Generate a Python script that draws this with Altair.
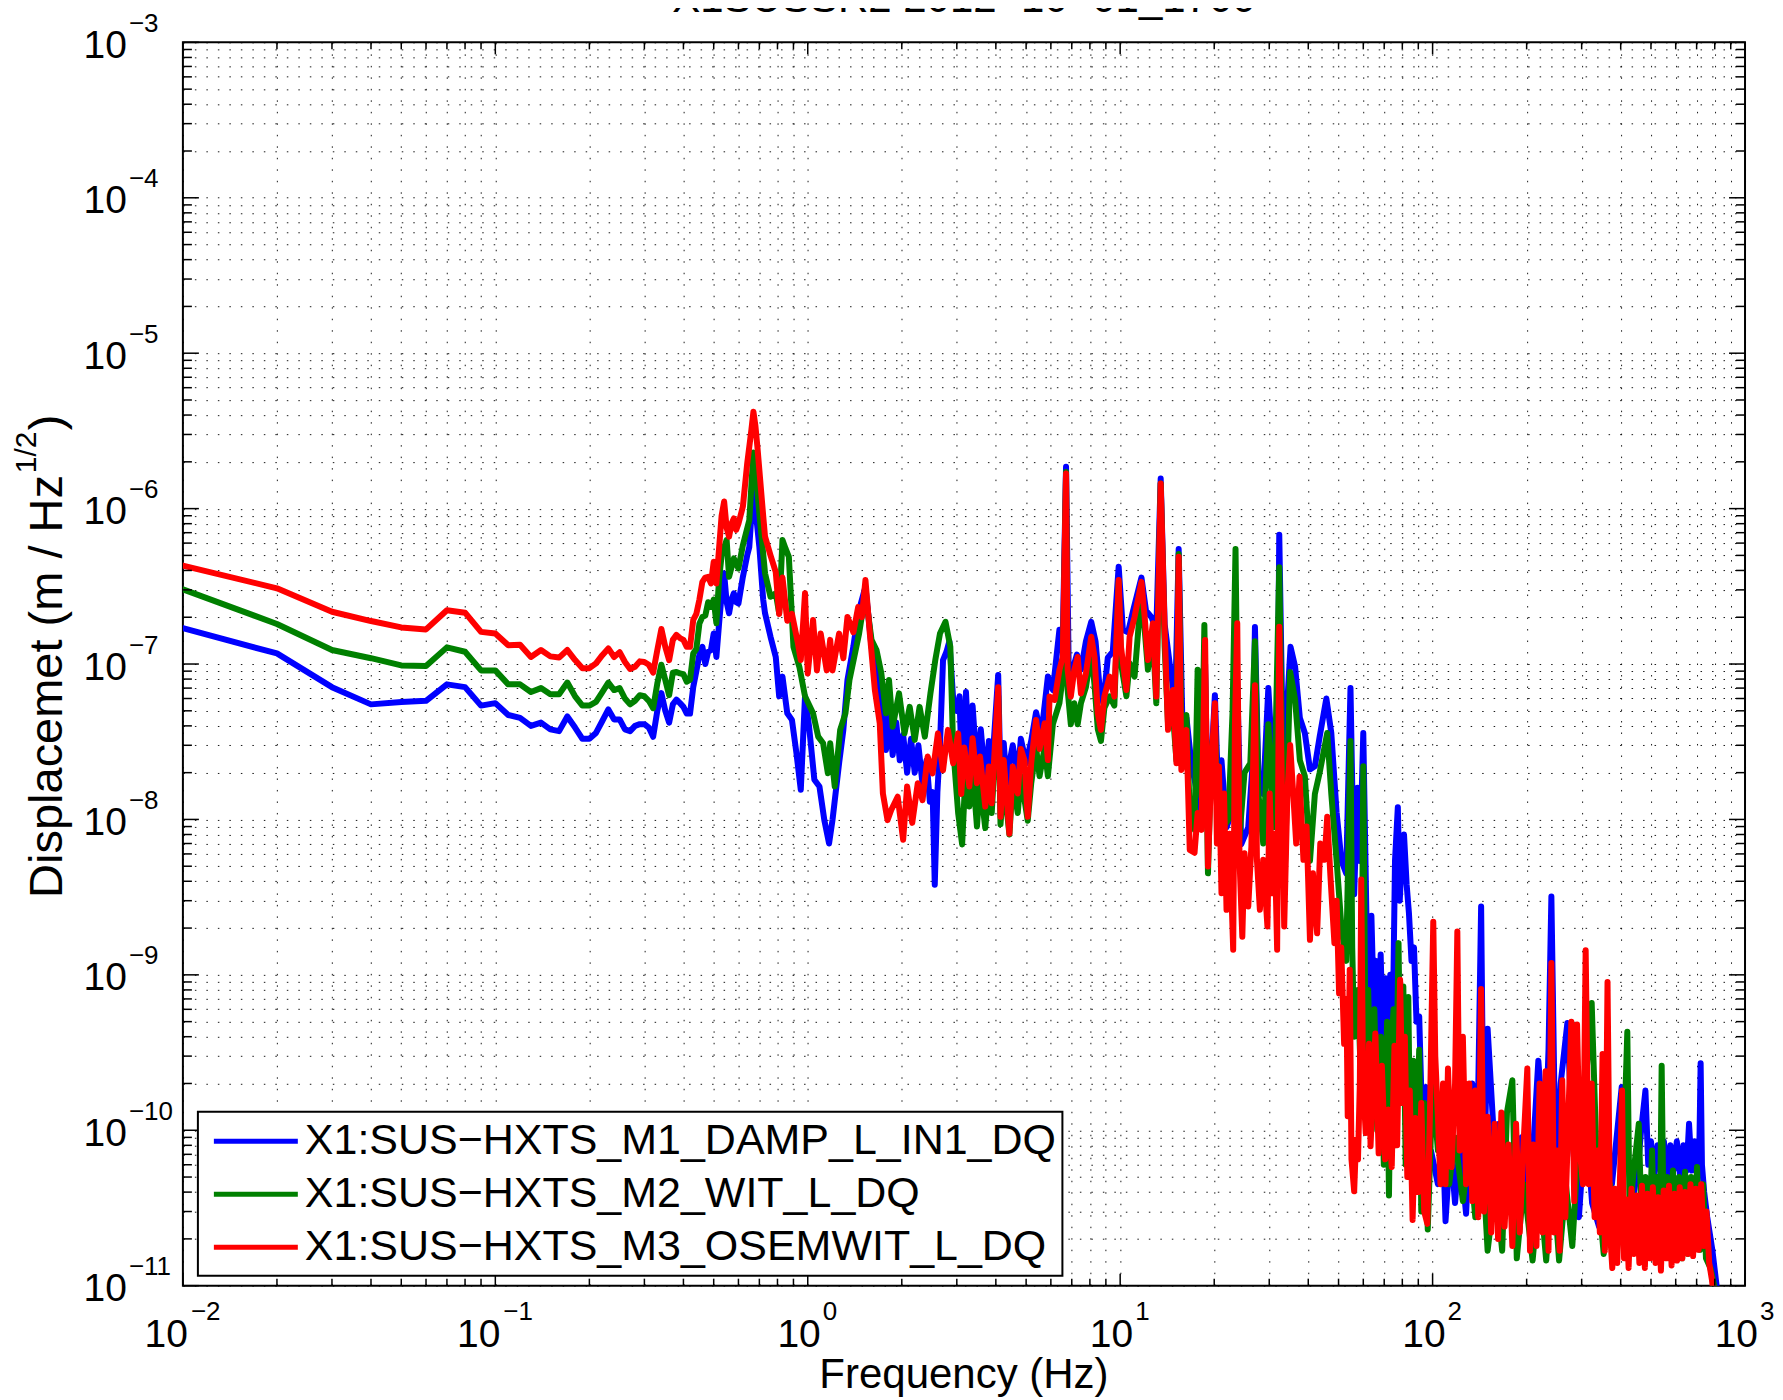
import altair as alt
import pandas as pd

TITLE = "X1SUSSR2 2012\u221210\u221201_1700"
X_TITLE = "Frequency (Hz)"
Y_TITLE_MAIN = "Displacemet (m / Hz"
Y_TITLE_SUP = "1/2"
Y_TITLE_END = ")"

SERIES = ["X1:SUS\u2212HXTS_M1_DAMP_L_IN1_DQ",
          "X1:SUS\u2212HXTS_M2_WIT_L_DQ",
          "X1:SUS\u2212HXTS_M3_OSEMWIT_L_DQ"]
COLORS = ["#0000ff", "#008000", "#ff0000"]

BLUE = [(0.01,1.70e-7),(0.02,1.17e-7),(0.03,7.1e-8),(0.04,5.5e-8),(0.05,5.7e-8),(0.06,5.8e-8),(0.07,7.4e-8),(0.08,7.1e-8),(0.09,5.4e-8),(0.10,5.6e-8),
(0.11,4.7e-8),(0.12,4.5e-8),(0.13,4.0e-8),(0.14,4.2e-8),(0.15,3.8e-8),(0.16,3.7e-8),(0.17,4.6e-8),(0.18,3.9e-8),(0.19,3.3e-8),(0.20,3.3e-8),
(0.21,3.6e-8),(0.22,4.3e-8),(0.23,5.1e-8),(0.24,4.4e-8),(0.25,4.4e-8),(0.26,3.8e-8),(0.27,3.7e-8),(0.28,4.0e-8),(0.29,4.1e-8),(0.30,4.1e-8),
(0.31,3.9e-8),(0.32,3.4e-8),(0.33,5.0e-8),(0.34,6.5e-8),(0.35,5.0e-8),(0.36,4.2e-8),(0.37,5.5e-8),(0.38,5.9e-8),(0.39,5.6e-8),(0.40,5.3e-8),
(0.41,4.8e-8),(0.42,4.8e-8),(0.43,7.1e-8),(0.44,9.0e-8),(0.45,1.15e-7),(0.46,1.29e-7),(0.47,1.0e-7),(0.48,1.2e-7),(0.49,1.23e-7),(0.50,1.57e-7),
(0.51,1.11e-7),(0.52,1.8e-7),(0.53,2.8e-7),(0.54,3.83e-7),(0.55,2.5e-7),(0.56,2.12e-7),(0.57,2.6e-7),(0.58,2.85e-7),(0.59,2.5e-7),(0.60,2.45e-7),
(0.62,3.64e-7),(0.64,5.0e-7),(0.65,5.67e-7),(0.66,9.0e-7),(0.67,1.38e-6),(0.68,1.0e-6),(0.70,5.67e-7),(0.72,2.6e-7),(0.73,2.12e-7),(0.76,1.50e-7),
(0.79,1.11e-7),(0.81,6.2e-8),(0.83,8.3e-8),(0.86,4.82e-8),(0.89,4.37e-8),(0.92,2.67e-8),(0.95,1.55e-8),(0.98,6.2e-8),(1.01,3.95e-8),(1.05,1.80e-8),
(1.09,1.63e-8),(1.13,9.9e-9),(1.17,7.0e-9),(1.20,9.9e-9),(1.26,2.3e-8),(1.30,3.77e-8),(1.34,7.9e-8),(1.40,1.3e-7),(1.45,2.12e-7),(1.53,3.14e-7),
(1.60,1.29e-7),(1.66,9.1e-8),(1.70,7.0e-8),(1.74,4.8e-8),(1.78,2.8e-8),(1.82,4.8e-8),(1.87,2.6e-8),(1.92,4.2e-8),(1.97,2.4e-8),(2.02,3.5e-8),
(2.08,2.0e-8),(2.14,3.3e-8),(2.20,2.0e-8),(2.26,3.0e-8),(2.33,1.7e-8),(2.40,2.4e-8),(2.46,1.3e-8),(2.51,1.5e-8),(2.55,3.8e-9),(2.60,1.5e-8),
(2.65,3.0e-8),(2.71,1.06e-7),(2.78,1.2e-7),(2.84,1.4e-7),(2.92,6.0e-8),(3.00,5.0e-8),(3.06,6.2e-8),(3.12,1.75e-8),(3.21,6.6e-8),(3.29,2.3e-8),
(3.37,5.4e-8),(3.48,2.1e-8),(3.58,3.8e-8),(3.70,1.75e-8),(3.80,3.2e-8),(3.88,2.0e-8),(4.07,8.5e-8),(4.14,1.75e-8),(4.24,3.1e-8),(4.33,1.7e-8),
(4.42,2.3e-8),(4.53,3.0e-8),(4.70,1.9e-8),(4.81,3.3e-8),(5.00,2.3e-8),(5.19,3.2e-8),(5.38,4.9e-8),(5.59,3.5e-8),(5.87,8.3e-8),(6.09,6.8e-8),
(6.39,1.66e-7),(6.55,1.4e-7),(6.71,1.86e-6),(6.84,1.01e-7),(7.04,9.2e-8),(7.27,1.15e-7),(7.49,9.2e-8),(7.77,1.4e-7),(8.08,1.87e-7),(8.34,1.4e-7),
(8.58,7.3e-8),(8.83,5.6e-8),(9.13,1.1e-7),(9.47,1.2e-7),(9.89,4.23e-7),(10.2,1.66e-7),(10.6,1.6e-7),(11.0,2.2e-7),(11.7,3.6e-7),(12.1,2.2e-7),
(12.6,2.0e-7),(13.05,1.66e-7),(13.48,1.56e-6),(13.88,1.8e-7),(14.4,1.01e-7),(15.0,5.6e-8),(15.39,5.5e-7),(15.8,4.7e-8),(16.3,4.5e-8),(16.9,2.3e-8),
(17.5,1.6e-8),(18.2,1.1e-8),(18.7,1.0e-7),(19.1,8.6e-9),(20.1,6.3e-8),(20.6,1.46e-8),(21.1,2.4e-8),(21.9,8.9e-9),(22.7,1.1e-8),(23.5,1.5e-7),
(24.4,6.9e-9),(25.7,8.9e-9),(26.6,2.4e-8),(27.0,1.73e-7),(27.7,1.9e-8),(28.7,1.46e-8),(29.8,7.0e-8),(30.7,2.4e-8),(31.8,1.46e-8),(32.3,6.8e-7),
(33.5,8.9e-9),(34.4,6.45e-8),(35.1,1.29e-7),(36.3,9.6e-8),(37.6,4.5e-8),(39.0,3.6e-8),(40.5,2.1e-8),(42.0,2.2e-8),(43.5,3.4e-8),(45.7,6.0e-8),
(47.4,3.6e-8),(49.3,1.1e-8),(51.1,5.4e-9),(52.9,4.5e-9),(54.6,7.0e-8),(56.1,3.3e-9),(57.5,1.6e-8),(58.5,5.4e-9),(60.0,3.6e-8),(61.5,2.0e-9),
(62.5,4e-10),(63.7,2.4e-9),(65.0,5e-10),(65.9,1.23e-9),(67.0,3e-10),(68.2,1.35e-9),(69.5,3e-10),(70.6,9.5e-10),(72.0,2.5e-10),(73.2,1.0e-9),
(74.5,4e-10),(75.8,5.4e-9),(77.4,1.2e-8),(78.5,3e-9),(79.6,5.4e-9),(81.0,8e-9),(82.6,3.8e-9),(84.0,2.5e-9),(85.6,1.23e-9),(87.2,1.5e-9),
(88.8,5.0e-10),(90.6,5.4e-10),(92.5,1.2e-10),(95.2,1.9e-10),(97.0,6e-11),(98.8,7.4e-11),(104,4.5e-11),(108,8.2e-11),(110,2.6e-11),(114,8e-11),
(118,3.4e-11),(122,8e-11),(128,2.9e-11),(134,2.0e-10),(139,7.4e-11),(143,2.75e-9),(146,4.5e-11),(150,4.5e-10),(158,7.4e-11),(163,1.1e-10),
(169,2.76e-11),(175,8e-11),(184,2.76e-11),(193,9e-11),(205,3.4e-11),(218,2.8e-10),(229,7.4e-11),(235,3.3e-10),(240,3.19e-9),(248,4.5e-11),
(257,2.0e-10),(270,4.9e-10),(280,9e-11),(294,2.76e-11),(309,1.22e-10),(324,3.4e-11),(341,2.4e-11),(358,8e-11),(375,4.5e-11),(403,1.9e-10),
(420,7.4e-11),(436,3.4e-11),(455,6e-11),(465,1e-10),(480,1.8e-10),(490,6e-11),(500,8.5e-11),(512,5e-11),(525,8e-11),(537,5.5e-11),
(550,8.5e-11),(563,5e-11),(577,8e-11),(590,5.5e-11),(605,8.5e-11),(620,5e-11),(635,8e-11),(650,5.5e-11),(662,1.1e-10),(675,5.5e-11),
(690,8.5e-11),(705,6e-11),(715,9e-11),(721,2.7e-10),(728,6e-11),(740,4e-11),(757,2.76e-11),(786,1.7e-11),(816,9e-12)]

GREEN = [(0.01,3.02e-7),(0.02,1.81e-7),(0.03,1.23e-7),(0.04,1.09e-7),(0.05,9.8e-8),(0.06,9.7e-8),(0.07,1.28e-7),(0.08,1.20e-7),(0.09,9.1e-8),(0.10,9.1e-8),
(0.11,7.4e-8),(0.12,7.4e-8),(0.13,6.6e-8),(0.14,7.0e-8),(0.15,6.4e-8),(0.16,6.4e-8),(0.17,7.6e-8),(0.18,6.2e-8),(0.19,5.4e-8),(0.20,5.4e-8),
(0.21,5.7e-8),(0.22,6.6e-8),(0.23,7.6e-8),(0.24,6.8e-8),(0.25,7.0e-8),(0.26,6.0e-8),(0.27,5.5e-8),(0.28,5.8e-8),(0.29,6.3e-8),(0.30,6.2e-8),
(0.31,5.8e-8),(0.32,5.2e-8),(0.33,7.5e-8),(0.34,9.9e-8),(0.35,7.9e-8),(0.36,6.3e-8),(0.37,8.8e-8),(0.38,8.9e-8),(0.39,8.7e-8),(0.40,8.6e-8),
(0.41,7.7e-8),(0.42,7.9e-8),(0.43,1.17e-7),(0.44,1.25e-7),(0.45,1.82e-7),(0.46,2.01e-7),(0.47,2.05e-7),(0.48,2.5e-7),(0.49,2.33e-7),(0.50,2.6e-7),
(0.51,1.83e-7),(0.52,3.47e-7),(0.53,5.0e-7),(0.55,6.28e-7),(0.56,3.64e-7),(0.58,4.78e-7),(0.60,4.12e-7),(0.62,5.82e-7),(0.65,8.43e-7),(0.66,1.4e-6),
(0.67,2.3e-6),(0.68,1.8e-6),(0.70,9.3e-7),(0.73,3.83e-7),(0.76,2.71e-7),(0.79,2.85e-7),(0.81,2.12e-7),(0.83,6.28e-7),(0.85,5.5e-7),(0.87,4.9e-7),
(0.90,1.29e-7),(0.94,9.6e-8),(0.98,6.2e-8),(1.04,4.82e-8),(1.08,3.41e-8),(1.12,3.09e-8),(1.16,1.98e-8),(1.18,3.09e-8),(1.22,1.63e-8),(1.27,3.77e-8),
(1.32,4.82e-8),(1.36,7.9e-8),(1.46,1.57e-7),(1.53,2.85e-7),(1.60,1.43e-7),(1.66,1.23e-7),(1.72,8.7e-8),(1.78,4.82e-8),(1.82,7.9e-8),(1.87,3.95e-8),
(1.96,6.47e-8),(2.04,3.58e-8),(2.12,5.3e-8),(2.20,3.25e-8),(2.28,5.3e-8),(2.37,3.41e-8),(2.47,6.47e-8),(2.56,1.06e-7),(2.65,1.57e-7),(2.76,1.87e-7),
(2.86,1.29e-7),(2.92,2.9e-8),(3.03,1.10e-8),(3.12,6.9e-9),(3.21,2.3e-8),(3.29,1.21e-8),(3.37,2.1e-8),(3.48,9.0e-9),(3.56,1.75e-8),(3.70,8.8e-9),
(3.80,1.7e-8),(3.88,1.1e-8),(4.07,6.2e-8),(4.14,9.3e-9),(4.24,1.75e-8),(4.42,8.0e-9),(4.53,1.75e-8),(4.70,1.1e-8),(4.81,1.9e-8),(5.06,9.8e-9),
(5.19,1.7e-8),(5.38,2.9e-8),(5.52,1.9e-8),(5.73,2.9e-8),(5.87,1.9e-8),(6.09,4.1e-8),(6.39,5.6e-8),(6.55,8.3e-8),(6.71,1.72e-6),(6.79,6.8e-8),
(6.95,4.1e-8),(7.13,5.6e-8),(7.31,4.1e-8),(7.49,5.6e-8),(7.77,7.1e-8),(8.08,1.2e-7),(8.28,7.3e-8),(8.48,3.8e-8),(8.68,3.2e-8),(8.90,5.2e-8),
(9.25,6.2e-8),(9.58,5.4e-8),(9.89,3.38e-7),(10.06,1.01e-7),(10.47,6.2e-8),(10.72,1.01e-7),(11.12,8.3e-8),(11.70,3.0e-7),(11.98,1.66e-7),(12.27,9.2e-8),
(12.73,1.5e-7),(13.05,5.6e-8),(13.48,1.45e-6),(13.88,1.3e-7),(14.23,4.1e-8),(14.76,4.7e-8),(15.14,2.4e-8),(15.39,5.1e-7),(15.70,3.8e-8),(16.29,4.7e-8),
(16.70,1.1e-8),(17.3,8.6e-9),(17.7,9.2e-8),(18.2,1.4e-8),(18.6,1.78e-7),(19.1,4.5e-9),(19.6,2.8e-8),(20.1,4.0e-8),(20.6,1.1e-8),(21.4,8.9e-9),
(22.2,1.0e-8),(22.9,5.0e-8),(23.4,5.5e-7),(24.0,7e-9),(25.0,2.0e-8),(26.1,2.3e-8),(27.0,1.4e-7),(27.7,1.46e-8),(28.7,7e-9),(29.8,4.1e-8),
(31.0,8.9e-9),(32.3,4.2e-7),(33.5,3.3e-9),(35.0,8.9e-8),(36.3,5.9e-8),(37.6,2.4e-8),(39.0,1.9e-8),(40.5,5.4e-9),(42.0,1.46e-8),(43.5,2.0e-8),
(46.0,3.6e-8),(47.4,1.46e-8),(49.3,5.4e-9),(51.1,2.0e-9),(52.9,1.23e-9),(54.6,3.2e-8),(55.3,1.5e-9),(56.1,4e-10),(57.7,8e-10),(59.0,2e-10),
(60.0,2.2e-8),(61.0,3e-10),(62.2,8e-10),(63.5,1.5e-10),(65.1,6e-10),(66.5,1e-10),(68.2,4e-10),(69.8,6e-11),(71.5,5e-10),(72.5,3.8e-11),
(73.5,3e-10),(75.0,6.0e-10),(76.0,8e-11),(77.8,1.6e-9),(79.0,1.5e-10),(80.6,8.4e-10),(82.0,6e-11),(83.6,7.2e-10),(85.0,5e-11),(86.7,2.8e-10),
(88.0,4e-11),(90.6,3.3e-10),(92.0,3e-11),(94.0,1.5e-10),(96.5,2.3e-11),(100,2.0e-10),(104,7.4e-11),(108,1.22e-10),(113,4.5e-11),(118,9e-11),
(125,3.5e-11),(131,7.4e-11),(137,2.76e-11),(144,7.4e-11),(150,1.68e-11),(159,4.5e-11),(167,1.68e-11),(173,1.3e-10),(180,2.1e-10),(186,1.5e-11),
(196,4.5e-11),(209,1.45e-11),(220,4.5e-11),(231,1.45e-11),(242,5.6e-11),(254,1.45e-11),(267,4.5e-11),(280,1.8e-11),(294,9e-11),(309,2e-10),
(323,6.6e-10),(337,4.5e-11),(353,1.6e-11),(370,4.5e-11),(388,1.6e-11),(405,4e-11),(420,4.3e-10),(428,2e-11),(436,4.5e-11),(457,1.1e-10),
(468,2e-11),(480,5e-11),(492,1.6e-11),(504,7.4e-11),(514,1.7e-11),(524,5e-11),(533,1.5e-11),(541,2.6e-10),(550,1.6e-11),(563,5e-11),
(575,1.5e-11),(588,5.5e-11),(601,1.6e-11),(615,5e-11),(629,1.5e-11),(643,5.4e-11),(657,1.6e-11),(672,5e-11),(687,1.7e-11),(702,5.8e-11),
(718,1.7e-11),(734,4.5e-11),(750,1.5e-11),(775,1.3e-11),(806,9e-12)]

RED = [(0.01,4.3e-7),(0.02,3.07e-7),(0.03,2.17e-7),(0.04,1.89e-7),(0.05,1.72e-7),(0.06,1.67e-7),(0.07,2.22e-7),(0.08,2.14e-7),(0.09,1.61e-7),(0.10,1.57e-7),
(0.11,1.32e-7),(0.12,1.33e-7),(0.13,1.11e-7),(0.14,1.23e-7),(0.15,1.12e-7),(0.16,1.10e-7),(0.17,1.23e-7),(0.18,1.06e-7),(0.19,9.4e-8),(0.20,9.4e-8),
(0.21,1.01e-7),(0.22,1.14e-7),(0.23,1.26e-7),(0.24,1.11e-7),(0.25,1.19e-7),(0.26,1.03e-7),(0.27,9.3e-8),(0.28,9.6e-8),(0.29,1.04e-7),(0.30,1.03e-7),
(0.31,9.9e-8),(0.32,8.8e-8),(0.33,1.23e-7),(0.34,1.68e-7),(0.35,1.29e-7),(0.36,1.06e-7),(0.37,1.43e-7),(0.38,1.54e-7),(0.39,1.47e-7),(0.40,1.43e-7),
(0.41,1.29e-7),(0.42,1.29e-7),(0.43,1.92e-7),(0.44,2.1e-7),(0.45,2.6e-7),(0.46,3.38e-7),(0.47,3.6e-7),(0.48,3.64e-7),(0.49,3.3e-7),(0.50,4.55e-7),
(0.51,3.3e-7),(0.52,5.5e-7),(0.53,9.0e-7),(0.54,1.11e-6),(0.55,7.5e-7),(0.56,6.6e-7),(0.57,8.0e-7),(0.58,8.65e-7),(0.59,7.3e-7),(0.60,8.0e-7),
(0.62,1.03e-6),(0.64,1.95e-6),(0.66,3.2e-6),(0.67,4.2e-6),(0.68,3.4e-6),(0.69,2.5e-6),(0.70,1.77e-6),(0.72,9.0e-7),(0.73,6.6e-7),(0.76,5.0e-7),
(0.79,3.9e-7),(0.81,2.1e-7),(0.83,3.6e-7),(0.86,1.9e-7),(0.89,2.1e-7),(0.93,1.36e-7),(0.95,1.06e-7),(0.98,2.85e-7),(1.00,8.7e-8),(1.04,1.92e-7),
(1.07,9.1e-8),(1.10,1.57e-7),(1.15,9.1e-8),(1.18,1.43e-7),(1.20,9.1e-8),(1.26,1.57e-7),(1.30,1.09e-7),(1.34,2.01e-7),(1.40,1.6e-7),(1.45,2.33e-7),
(1.49,2.0e-7),(1.53,3.47e-7),(1.58,1.57e-7),(1.64,6.8e-8),(1.70,4.16e-8),(1.74,1.47e-8),(1.80,9.9e-9),(1.85,1.15e-8),(1.94,1.40e-8),(2.02,7.4e-9),
(2.08,1.63e-8),(2.16,9.5e-9),(2.25,1.71e-8),(2.33,1.33e-8),(2.42,2.54e-8),(2.51,1.98e-8),(2.61,3.58e-8),(2.71,2.07e-8),(2.81,3.77e-8),(2.92,2.3e-8),
(3.03,3.58e-8),(3.10,1.46e-8),(3.17,2.9e-8),(3.29,1.63e-8),(3.37,3.33e-8),(3.48,1.71e-8),(3.56,2.54e-8),(3.70,1.21e-8),(3.80,2.19e-8),(3.88,1.27e-8),
(4.07,7.1e-8),(4.14,1.04e-8),(4.24,2.41e-8),(4.33,1.40e-8),(4.42,8.1e-9),(4.53,2.19e-8),(4.70,1.47e-8),(4.81,2.84e-8),(4.94,2.41e-8),(5.06,1.04e-8),
(5.19,2.30e-8),(5.38,4.37e-8),(5.52,2.84e-8),(5.73,4.15e-8),(5.87,2.41e-8),(5.94,6.17e-8),(6.17,5.88e-8),(6.39,9.15e-8),(6.55,1.11e-7),(6.71,1.68e-6),
(6.79,9.15e-8),(6.95,6.17e-8),(7.13,9.15e-8),(7.31,1.11e-7),(7.49,6.47e-8),(7.77,8.7e-8),(8.08,1.50e-7),(8.28,1.11e-7),(8.48,4.82e-8),(8.68,3.77e-8),
(8.90,6.17e-8),(9.25,8.3e-8),(9.58,6.17e-8),(9.89,3.47e-7),(10.06,1.29e-7),(10.47,6.8e-8),(10.72,1.50e-7),(11.12,2.01e-7),(11.70,3.38e-7),(11.98,2.01e-7),
(12.27,1.06e-7),(12.73,1.83e-7),(13.05,6.17e-8),(13.48,1.45e-6),(13.88,1.66e-7),(14.23,3.77e-8),(14.76,6.8e-8),(15.14,2.30e-8),(15.39,4.9e-7),(15.70,2.08e-8),
(16.29,3.77e-8),(16.70,6.37e-9),(17.3,6.1e-9),(17.7,1.10e-8),(18.2,8.57e-9),(18.7,1.43e-7),(19.1,4.98e-9),(19.6,2.30e-8),(20.1,5.6e-8),(20.4,7.0e-9),
(20.7,2.19e-8),(21.1,3.35e-9),(21.5,1.47e-8),(21.9,2.62e-9),(22.4,8.1e-9),(22.7,3.35e-9),(23.0,1.45e-9),(23.3,4.16e-8),(23.7,1.83e-7),(24.1,5.5e-9),
(24.6,1.76e-9),(25.0,6.06e-9),(25.7,2.75e-9),(26.3,6.7e-9),(27.0,7.3e-8),(27.4,5.5e-9),(28.0,2.62e-9),(28.7,5.5e-9),(29.6,2.05e-9),(30.1,1.47e-8),
(30.7,3.35e-9),(31.2,8.1e-9),(31.8,1.45e-9),(32.3,1.74e-7),(33.5,2.05e-9),(34.3,1.47e-8),(35.0,3.01e-8),(35.8,1.47e-8),(36.6,7.0e-9),(37.5,1.88e-8),
(38.6,5.5e-9),(39.5,9.0e-9),(40.5,1.68e-9),(41.4,4.5e-9),(42.7,1.85e-9),(43.7,7.0e-9),(45.1,5.5e-9),(46.0,1.04e-8),(47.1,4.3e-9),(48.5,1.6e-9),
(49.3,3.0e-9),(50.2,7.6e-10),(51.0,1.5e-9),(52.1,3.6e-10),(53.0,7.0e-10),(53.5,1.23e-10),(54.3,1.08e-9),(55.0,6.5e-11),(56.1,4.05e-11),(56.9,8.7e-11),
(57.7,6.5e-11),(58.5,2.0e-10),(59.1,4.1e-9),(59.9,2.0e-10),(61.1,9.6e-11),(62.6,3.6e-10),(63.3,7.9e-11),(65.6,4.2e-10),(67.2,7.1e-11),(68.8,2.6e-10),
(70.5,6.5e-11),(72.2,1.36e-10),(74.0,5.8e-11),(75.5,3.5e-10),(77.0,8.0e-11),(78.7,9.3e-10),(80.0,1.5e-10),(81.5,4.0e-10),(83.0,5.0e-11),(84.5,1.8e-10),
(86.3,2.65e-11),(88.0,1.2e-10),(90.0,4.0e-11),(92.0,1.5e-10),(94.0,3.0e-11),(96.2,2.5e-11),(98.0,1.2e-10),(100.5,2.2e-9),(102,3.0e-10),(104,1.22e-10),
(106,4.5e-11),(108,2.0e-10),(110,4.5e-11),(112,2.5e-10),(115,5.8e-11),(118,2.0e-10),(120,1.9e-9),(122,7.4e-11),(125,4.0e-10),(128,4.5e-11),
(131,2.0e-10),(134,3.5e-11),(137,1.8e-10),(140,2.76e-11),(143,8.1e-10),(146,3.0e-11),(150,1.22e-10),(154,2.2e-11),(158,1.1e-10),(162,2.0e-11),
(166,1.3e-10),(170,2.4e-11),(175,8.1e-11),(180,1.8e-11),(185,1.1e-10),(190,2.2e-11),(195,7.4e-11),(201,2.5e-10),(205,1.68e-11),(210,8.1e-11),
(215,1.8e-11),(220,2.0e-10),(225,2.2e-11),(230,2.4e-10),(235,1.68e-11),(240,1.19e-9),(245,2.2e-11),(250,7.4e-11),(255,1.68e-11),(260,2.1e-10),
(266,2.76e-11),(272,1.22e-10),(278,5.0e-10),(284,3.5e-11),(290,4.8e-10),(296,7.4e-11),(303,4.5e-11),(309,1.44e-9),(316,4.5e-11),(323,2.0e-10),
(330,2.76e-11),(337,7.4e-11),(343,2.2e-11),(350,3.1e-10),(356,1.68e-11),(363,9.0e-10),(370,2.2e-11),(376,1.3e-11),(383,4.2e-11),(390,1.4e-11),
(397,4.0e-11),(404,1.8e-10),(410,1.5e-11),(416,3.6e-11),(424,1.3e-11),(433,4.2e-11),(441,1.6e-11),(450,3.8e-11),(459,1.4e-11),(468,4.4e-11),
(478,1.3e-11),(487,3.9e-11),(497,1.5e-11),(507,4.3e-11),(517,1.4e-11),(527,3.7e-11),(538,1.25e-11),(549,4.1e-11),(560,1.5e-11),(571,4.4e-11),
(582,1.35e-11),(594,3.9e-11),(606,1.45e-11),(618,4.3e-11),(630,1.5e-11),(643,4.0e-11),(656,1.6e-11),(669,4.5e-11),(682,1.55e-11),(696,4.2e-11),
(710,1.7e-11),(724,4.5e-11),(738,1.8e-11),(753,3.0e-11),(768,1.4e-11),(783,1.1e-11),(798,8e-12)]

X_MAJOR = [0.01, 0.1, 1, 10, 100, 1000]
X_EXP = ["\u22122", "\u22121", "0", "1", "2", "3"]
Y_MAJOR = [1e-3, 1e-4, 1e-5, 1e-6, 1e-7, 1e-8, 1e-9, 1e-10, 1e-11]
Y_EXP = ["\u22123", "\u22124", "\u22125", "\u22126", "\u22127", "\u22128", "\u22129", "\u221210", "\u221211"]
MULTS = [2, 3, 4, 5, 6, 7, 8, 9]
X_MINOR = [m * d for d in X_MAJOR[:-1] for m in MULTS]
Y_MINOR = [m * d for d in Y_MAJOR[1:] for m in MULTS]

W, H = 1563, 1244
FONT = "Liberation Sans"

xs = alt.Scale(type="log", domain=[0.01, 1000], nice=False)
ys = alt.Scale(type="log", domain=[1e-11, 1e-3], nice=False)
x_axis = alt.Axis(values=X_MAJOR + X_MINOR, grid=True, gridColor="black", gridDash=[1.5, 10],
                  gridWidth=1, gridOpacity=0.9, labels=False, ticks=False, domain=False, title=None)
y_axis = alt.Axis(values=Y_MAJOR + Y_MINOR, grid=True, gridColor="black", gridDash=[1.5, 10],
                  gridWidth=1, gridOpacity=0.9, labels=False, ticks=False, domain=False, title=None)
cscale = alt.Scale(domain=SERIES, range=COLORS)
legend = alt.Legend(title=None, orient="none", legendX=15, legendY=1070, direction="vertical",
                    symbolType="M-0.643,0H3.357", symbolSize=1764, symbolStrokeWidth=5,
                    labelFontSize=43, labelFont=FONT, labelColor="black", labelLimit=3000,
                    labelOffset=54, rowPadding=7, padding=6,
                    fillColor="white", strokeColor="black")

layers = []
for name, pts in zip(SERIES, [BLUE, GREEN, RED]):
    df = pd.DataFrame(pts, columns=["f", "v"])
    df["series"] = name
    layers.append(
        alt.Chart(df).mark_line(strokeWidth=6, clip=True, strokeJoin="round", strokeCap="round").encode(
            x=alt.X("f:Q", scale=xs, axis=x_axis),
            y=alt.Y("v:Q", scale=ys, axis=y_axis),
            color=alt.Color("series:N", scale=cscale, legend=legend),
        )
    )

def yrule(vals, x0, x1):
    return alt.Chart(pd.DataFrame({"v": vals})).mark_rule(color="black", strokeWidth=1.5).encode(
        y=alt.Y("v:Q", scale=ys, axis=y_axis), x=alt.value(x0), x2=alt.value(x1))

def xrule(vals, y0, y1):
    return alt.Chart(pd.DataFrame({"f": vals})).mark_rule(color="black", strokeWidth=1.5).encode(
        x=alt.X("f:Q", scale=xs, axis=x_axis), y=alt.value(y0), y2=alt.value(y1))

ticks = [
    yrule(Y_MAJOR, 0, 16), yrule(Y_MINOR, 0, 9), yrule(Y_MAJOR, W - 16, W), yrule(Y_MINOR, W - 9, W),
    xrule(X_MAJOR, H - 12, H), xrule(X_MINOR, H - 7, H), xrule(X_MAJOR, 0, 12), xrule(X_MINOR, 0, 7),
]

ylab = pd.DataFrame({"v": Y_MAJOR, "exp": Y_EXP, "base": ["10"] * len(Y_MAJOR)})
ylab_base = alt.Chart(ylab).mark_text(align="right", baseline="alphabetic", fontSize=39, font=FONT, dy=15.5, color="black").encode(
    y=alt.Y("v:Q", scale=ys, axis=y_axis), x=alt.value(-56), text="base:N")
ylab_exp = alt.Chart(ylab).mark_text(align="left", baseline="alphabetic", fontSize=26, font=FONT, dy=-10.5, color="black").encode(
    y=alt.Y("v:Q", scale=ys, axis=y_axis), x=alt.value(-54), text="exp:N")

xn = pd.DataFrame({"f": X_MAJOR[:2], "exp": X_EXP[:2], "base": ["10"] * 2})
xp = pd.DataFrame({"f": X_MAJOR[2:], "exp": X_EXP[2:], "base": ["10"] * 4})

def xlabels(df, dxb, dxe):
    b = alt.Chart(df).mark_text(align="right", baseline="alphabetic", fontSize=39, font=FONT, dx=dxb, color="black").encode(
        x=alt.X("f:Q", scale=xs, axis=x_axis), y=alt.value(H + 61), text="base:N")
    e = alt.Chart(df).mark_text(align="left", baseline="alphabetic", fontSize=26, font=FONT, dx=dxe, color="black").encode(
        x=alt.X("f:Q", scale=xs, axis=x_axis), y=alt.value(H + 34), text="exp:N")
    return [b, e]

texts = pd.DataFrame({"t": [TITLE], "xt": [X_TITLE], "ym": [Y_TITLE_MAIN], "ysup": [Y_TITLE_SUP], "yend": [Y_TITLE_END]})
title_mark = alt.Chart(texts).mark_text(align="center", baseline="alphabetic", fontSize=42, font=FONT, color="black").encode(
    x=alt.value(W / 2), y=alt.value(-30), text="t:N")
xtitle_mark = alt.Chart(texts).mark_text(align="center", baseline="alphabetic", fontSize=42, font=FONT, color="black").encode(
    x=alt.value(W / 2), y=alt.value(H + 102), text="xt:N")
ytitle_main = alt.Chart(texts).mark_text(align="left", baseline="alphabetic", fontSize=47, font=FONT, angle=270, color="black").encode(
    x=alt.value(-121), y=alt.value(856), text="ym:N")
ytitle_sup = alt.Chart(texts).mark_text(align="left", baseline="alphabetic", fontSize=30, font=FONT, angle=270, color="black").encode(
    x=alt.value(-147), y=alt.value(431), text="ysup:N")
ytitle_end = alt.Chart(texts).mark_text(align="left", baseline="alphabetic", fontSize=47, font=FONT, angle=270, color="black").encode(
    x=alt.value(-121), y=alt.value(388), text="yend:N")

chart = alt.layer(
    *layers, *ticks, ylab_base, ylab_exp, *xlabels(xn, 5, 8), *xlabels(xp, 13, 15),
    title_mark, xtitle_mark, ytitle_main, ytitle_sup, ytitle_end,
).properties(
    width=W, height=H,
    padding={"left": 175, "top": 34, "right": 30, "bottom": 112},
    autosize=alt.AutoSizeParams(type="none"),
).configure_view(stroke="black", strokeWidth=2).configure_legend(strokeWidth=2)

chart.save("out.html", embed_options={"renderer": "svg", "actions": False})
